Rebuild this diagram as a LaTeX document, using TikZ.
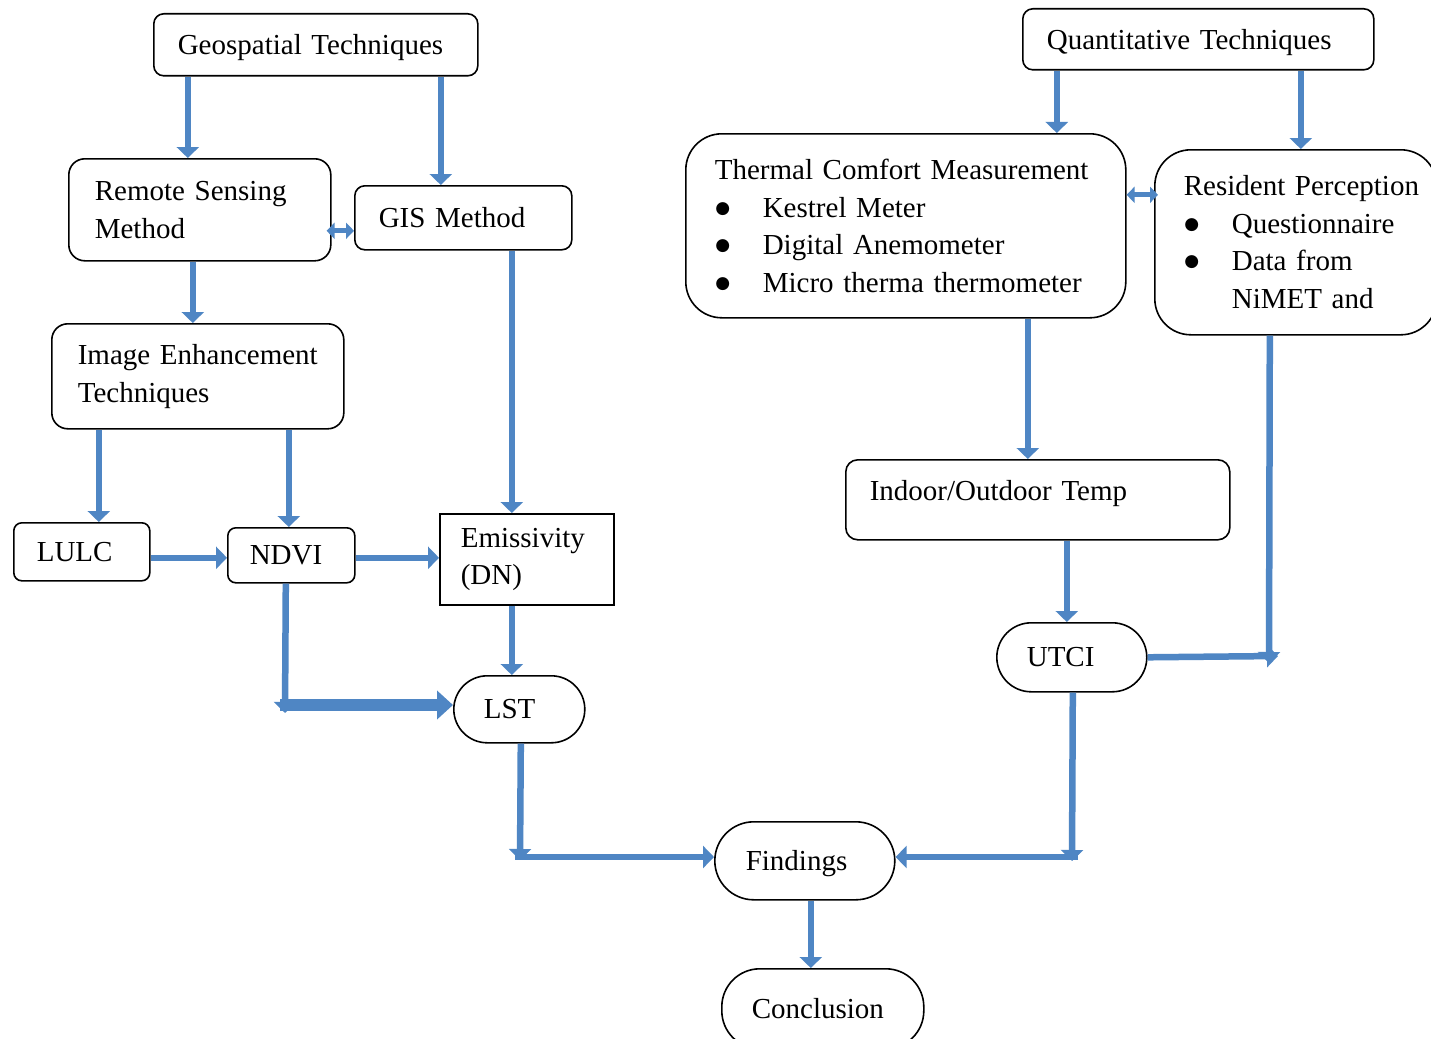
\documentclass[tikz,border=0pt]{standalone}
\usepackage{fontspec}
\setmainfont{Liberation Serif}
\newfontfamily\symfont{DejaVu Sans}
\usetikzlibrary{arrows.meta}
\definecolor{arrowblue}{RGB}{79,134,196}
\tikzset{
  x=1pt, y=-1pt,
  box/.style={draw=black, line width=1.6pt, anchor=north west, align=left,
    font=\fontsize{29pt}{37.5pt}\selectfont, inner ysep=0pt},
  blk/.style={draw=arrowblue, line width=6.5pt, -{Triangle[width=22pt,length=11pt]}},
  blkboth/.style={draw=arrowblue, line width=5pt, {Triangle[width=16pt,length=8pt]}-{Triangle[width=16pt,length=8pt]}},
  blkthick/.style={draw=arrowblue, line width=12pt, -{Triangle[width=28pt,length=16pt]}}
}
\newcommand{\bitem}[1]{\makebox[48pt][l]{\hspace{0.5pt}\raisebox{4pt}{\symfont\fontsize{17pt}{17pt}\selectfont ●}}\mbox{#1}}
\begin{document}
\begin{tikzpicture}
\useasboundingbox (0,0) rectangle (1431,1038);
\fill[white] (0,0) rectangle (1431,1038);

% left branch: geospatial techniques
\node[box, rounded corners=10pt, minimum width=324pt, minimum height=62pt, text width=276pt, text depth=0pt]
  (geo) at (153,13) {Geospatial Techniques};
\node[box, rounded corners=16pt, minimum width=262pt, minimum height=102pt, text width=210pt]
  (rs) at (68,158) {Remote Sensing\\Method};
\node[box, rounded corners=10pt, minimum width=217pt, minimum height=64pt, text width=169pt]
  (gis) at (354,185) {GIS Method};
\node[box, rounded corners=16pt, minimum width=292pt, minimum height=105pt, text width=240pt]
  (ie) at (51,323) {Image Enhancement\\Techniques};
\node[box, rounded corners=8pt, minimum width=136pt, minimum height=58pt, text width=90pt]
  (lulc) at (13,522) {LULC};
\node[box, rounded corners=8pt, minimum width=127pt, minimum height=55pt, text width=83pt]
  (ndvi) at (227,527) {NDVI};
\node[box, minimum width=174pt, minimum height=91pt, text width=132pt]
  (emis) at (439,513) {Emissivity\\(DN)};
\node[box, rounded corners=33.5pt, minimum width=131pt, minimum height=67pt, text width=71pt]
  (lst) at (453,675) {LST};

% right branch: quantitative techniques
\node[box, rounded corners=10pt, minimum width=351pt, minimum height=61pt, text width=303pt, text depth=0pt]
  (qt) at (1022,8) {Quantitative Techniques};
\node[box, rounded corners=36pt, minimum width=440pt, minimum height=184pt, text width=382pt]
  (tcm) at (685,133) {\mbox{Thermal Comfort Measurement}\\\bitem{Kestrel Meter}\\\bitem{Digital Anemometer}\\\bitem{Micro therma thermometer}};
\node[box, rounded corners=36pt, minimum width=282pt, minimum height=185pt, text width=224pt]
  (rp) at (1154,149) {\mbox{Resident Perception}\\\bitem{Questionnaire}\\\bitem{Data from}\\\hspace*{48pt}\mbox{NiMET and}};
\node[box, rounded corners=12pt, minimum width=384pt, minimum height=80pt, text width=336pt, text depth=18pt]
  (io) at (845,459) {Indoor/Outdoor Temp};
\node[box, rounded corners=34.5pt, minimum width=150pt, minimum height=69pt, text width=90pt]
  (utci) at (996,622) {UTCI};
\node[box, rounded corners=39pt, minimum width=180pt, minimum height=78pt, text width=118pt, text depth=0pt]
  (find) at (714,821) {Findings};
\node[box, rounded corners=38pt, minimum width=202pt, minimum height=80pt, text width=142pt]
  (conc) at (721,968) {Conclusion};

% elbow corners
\coordinate (c1) at (285,713);
\coordinate (c2) at (280,705);
\coordinate (c3) at (520,860);
\coordinate (c4) at (515,857);
\coordinate (c5) at (1269,663);
\coordinate (c6) at (1278,656);
\coordinate (c7) at (1072,861);
\coordinate (c8) at (1078,857);

% connectors, left
\draw[blk] ([xshift=-128pt]geo.south) -- ([xshift=-12pt]rs.north);
\draw[blk] ([xshift=125pt]geo.south) -- ([xshift=-22.5pt]gis.north);
\draw[blkboth] ([xshift=-5pt,yshift=-21pt]rs.east) -- ([yshift=-13pt]gis.west);
\draw[blk] ([xshift=-7pt]rs.south) -- ([xshift=-5pt]ie.north);
\draw[blk] ([xshift=-99pt]ie.south) -- ([xshift=17pt]lulc.north);
\draw[blk] ([xshift=91pt]ie.south) -- ([xshift=-2.5pt]ndvi.north);
\draw[blk] ([xshift=48.5pt]gis.south) -- ([xshift=-15pt]emis.north);
\draw[blk] ([yshift=-6pt]lulc.east) -- ([yshift=-2.5pt]ndvi.west);
\draw[blk] ([yshift=-2.5pt]ndvi.east) -- ([yshift=1.5pt]emis.west);
\draw[blk] ([xshift=-5.5pt]ndvi.south) -- (c1);
\draw[blkthick] (c2) -- (c2 -| lst.west);
\draw[blk] ([xshift=-15pt]emis.south) -- ([xshift=-7.5pt]lst.north);
\draw[blk] ([xshift=1.5pt]lst.south) -- (c3);
\draw[blk] (c4) -- (c4 -| find.west);

% connectors, right
\draw[blk] ([xshift=-141.5pt]qt.south) -- ([xshift=151pt]tcm.north);
\draw[blk] ([xshift=102.5pt]qt.south) -- ([xshift=5pt]rp.north);
\draw[blkboth] ([yshift=31pt]tcm.east) -- ([xshift=4pt,yshift=47.5pt]rp.west);
\draw[blk] ([xshift=122pt]tcm.south) -- ([xshift=-10pt]io.north);
\draw[blk] ([xshift=29pt]io.south) -- ([xshift=-5pt]utci.north);
\draw[blk] ([xshift=-26pt]rp.south) -- (c5);
\draw[blk] (utci.east) -- (c6);
\draw[blk] ([xshift=1pt]utci.south) -- (c7);
\draw[blk] (c8) -- (c8 -| find.east);
\draw[blk] ([xshift=6pt]find.south) -- ([xshift=-12pt]conc.north);
\end{tikzpicture}
\end{document}
